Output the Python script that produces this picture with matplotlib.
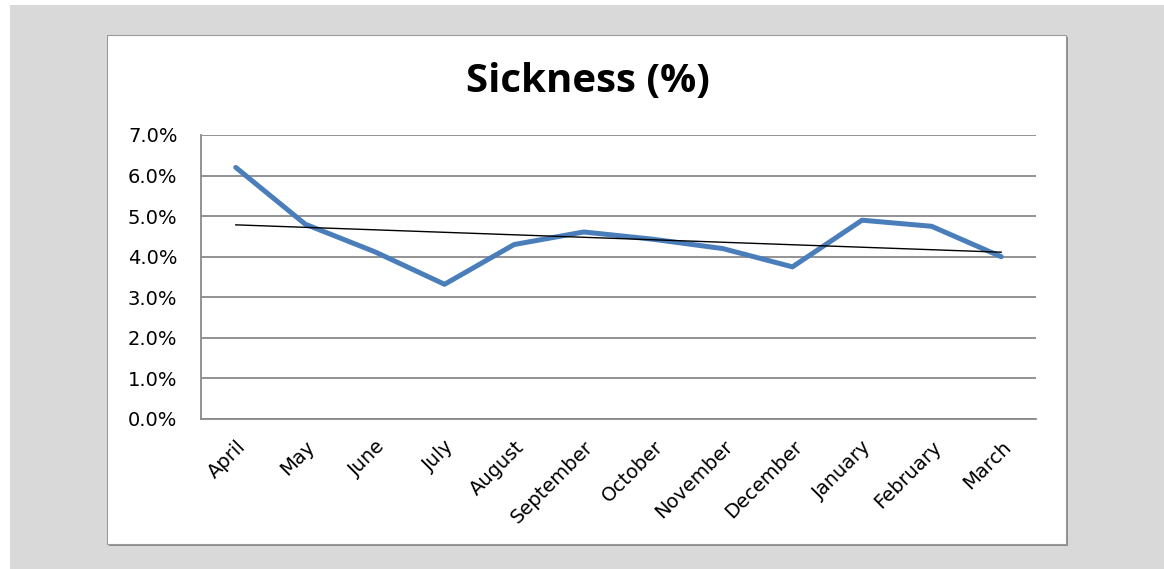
import numpy as np
import matplotlib
matplotlib.use("Agg")
import matplotlib.pyplot as plt
from matplotlib.patches import Rectangle
from matplotlib.ticker import FuncFormatter

plt.rcParams["font.family"] = ["DejaVu Sans"]

months = ["April", "May", "June", "July", "August", "September",
          "October", "November", "December", "January", "February", "March"]
sickness = [6.20, 4.80, 4.12, 3.32, 4.30, 4.61, 4.43, 4.20, 3.75, 4.90, 4.75, 4.00]
y_ticks = [0, 1, 2, 3, 4, 5, 6, 7]

W, H = 1164, 569
fig = plt.figure(figsize=(W / 100, H / 100), dpi=100)
fig.patch.set_facecolor("white")


def px_rect(x0, y0, x1, y1, **kw):
    # rectangle given in pixel coords from the top-left corner
    r = Rectangle((x0 / W, 1 - y1 / H), (x1 - x0) / W, (y1 - y0) / H,
                  transform=fig.transFigure, **kw)
    fig.patches.append(r)


# grey backdrop and the white chart panel with a small shadow
px_rect(10, 5, W, H, facecolor="#d9d9d9", edgecolor="none", zorder=0)
px_rect(109, 37, 1068, 546, facecolor="#8c8c8c", edgecolor="none", zorder=1)
px_rect(107, 35, 1066, 544, facecolor="white", edgecolor="#9a9a9a",
        linewidth=0.8, zorder=2)

ax = fig.add_axes([201 / W, 1 - 419 / H, (1036 - 201) / W, (419 - 135) / H])
ax.set_zorder(3)
ax.set_facecolor("none")

x = np.arange(len(months))
ax.plot(x, sickness, color="#4a7ebb", linewidth=3.6, solid_capstyle="round",
        solid_joinstyle="round", zorder=3)

# linear trend line
slope, intercept = np.polyfit(x, sickness, 1)
ax.plot(x, slope * x + intercept, color="black", linewidth=1.0, zorder=4)

ax.set_xlim(-0.5, len(months) - 0.5)
ax.set_ylim(0, 7)
ax.set_yticks(y_ticks)
ax.yaxis.set_major_formatter(FuncFormatter(lambda v, _: f"{v:.1f}%"))
ax.grid(axis="y", color="#8a8a8a", linewidth=1.3)
ax.set_axisbelow(True)

for side in ["top", "right"]:
    ax.spines[side].set_visible(False)
for side in ["left", "bottom"]:
    ax.spines[side].set_color("#8a8a8a")
    ax.spines[side].set_linewidth(1.3)

ax.set_xticks(x)
ax.set_xticklabels(months, rotation=45, ha="right", rotation_mode="anchor")
ax.tick_params(axis="both", length=0, labelsize=14, colors="black")
ax.tick_params(axis="y", pad=17)
ax.tick_params(axis="x", pad=13)

fig.text(588 / W, 1 - 82 / H, "Sickness (%)", ha="center", va="center",
         fontsize=29, fontweight="bold", family=["Open Sans", "DejaVu Sans"])

fig.savefig("out.png", dpi=100)
